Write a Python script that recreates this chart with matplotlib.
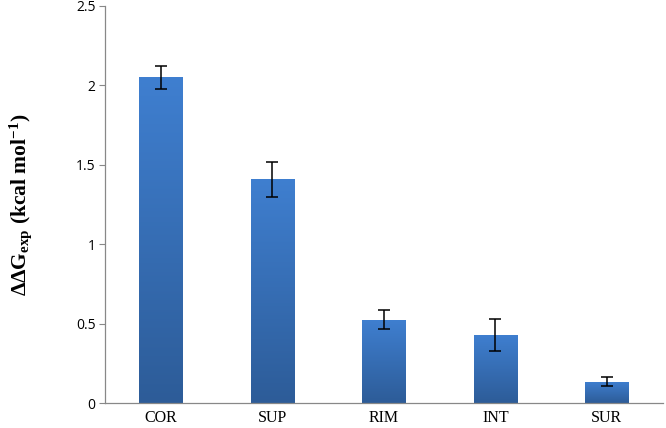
import numpy as np
import matplotlib
matplotlib.use("Agg")
import matplotlib.pyplot as plt
from matplotlib.colors import LinearSegmentedColormap

# data
categories = ["COR", "SUP", "RIM", "INT", "SUR"]
ddg = [2.05, 1.41, 0.525, 0.43, 0.135]
err = [0.075, 0.11, 0.06, 0.10, 0.03]

plt.rcParams["mathtext.fontset"] = "custom"
plt.rcParams["mathtext.rm"] = "Liberation Serif:bold"
plt.rcParams["mathtext.it"] = "Liberation Serif:bold"
plt.rcParams["mathtext.bf"] = "Liberation Serif:bold"

fig = plt.figure(figsize=(6.66, 4.28), dpi=100)
ax = fig.add_axes([0.158, 0.058, 0.837, 0.928])

x = np.arange(len(categories))
bars = ax.bar(x, ddg, width=0.39, color="none", edgecolor="none", zorder=2)

# vertical gradient inside each bar (lighter at top)
cmap = LinearSegmentedColormap.from_list("blu", ["#2d5c98", "#3f7fd0"])
grad = np.linspace(0, 1, 256).reshape(-1, 1)
for b in bars:
    x0, w, h = b.get_x(), b.get_width(), b.get_height()
    im = ax.imshow(grad, extent=[x0, x0 + w, 0, h], origin="lower",
                   cmap=cmap, aspect="auto", zorder=2)
    im.set_clip_path(b)

ax.errorbar(x, ddg, yerr=err, fmt="none", ecolor="black", elinewidth=1.1,
            capsize=4, capthick=1.1, zorder=3)

ax.set_xlim(-0.5, 4.5)
ax.set_ylim(0, 2.5)
ax.set_yticks([0, 0.5, 1, 1.5, 2, 2.5])
ax.set_yticklabels(["0", "0.5", "1", "1.5", "2", "2.5"],
                   fontname="Open Sans", fontsize=10)
ax.set_xticks(x)
ax.set_xticklabels(categories, fontname="Liberation Serif", fontsize=11.5)
ax.tick_params(axis="x", length=0, pad=5)
ax.tick_params(axis="y", length=4, color="#888888", pad=3)

for s in ["top", "right"]:
    ax.spines[s].set_visible(False)
for s in ["left", "bottom"]:
    ax.spines[s].set_color("#888888")
    ax.spines[s].set_linewidth(0.9)

ax.set_ylabel(r"$\Delta\Delta G_{exp}$ (kcal mol$^{-1}$)",
              fontname="Liberation Serif", fontweight="bold", fontsize=15.5)
ax.yaxis.set_label_coords(-0.128, 0.5)

fig.savefig("out.png", dpi=100)
